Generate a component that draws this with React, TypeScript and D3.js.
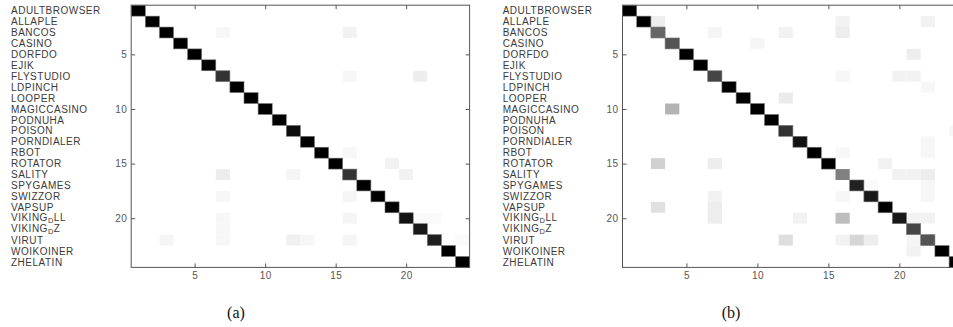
import { useEffect, useRef } from 'react';
import * as d3 from 'd3';

const CLASSES = [
  'ADULTBROWSER', 'ALLAPLE', 'BANCOS', 'CASINO', 'DORFDO', 'EJIK', 'FLYSTUDIO', 'LDPINCH',
  'LOOPER', 'MAGICCASINO', 'PODNUHA', 'POISON', 'PORNDIALER', 'RBOT', 'ROTATOR', 'SALITY',
  'SPYGAMES', 'SWIZZOR', 'VAPSUP', 'VIKING_DLL', 'VIKING_DZ', 'VIRUT', 'WOIKOINER', 'ZHELATIN',
];

const TICKS = [5, 10, 15, 20];

// diagonal (correct rate) per class
const DIAG_A = [1, 1, 1, 1, 1, 1, 0.8, 1, 1, 1, 1, 0.95, 1, 1, 1, 0.8, 1, 1, 1, 0.93, 0.9, 0.88, 1, 1];
const DIAG_B = [1, 1, 0.6, 0.67, 1, 1, 0.73, 1, 1, 1, 1, 0.8, 0.93, 1, 1, 0.5, 0.87, 0.9, 1, 0.9, 0.73, 0.67, 1, 1];

// off-diagonal confusions: [row, col, rate]
const OFF_A: [number, number, number][] = [
  [3, 7, 0.03], [3, 16, 0.05], [7, 16, 0.03], [7, 21, 0.07], [14, 16, 0.03], [15, 19, 0.05],
  [16, 7, 0.07], [16, 12, 0.04], [16, 20, 0.05], [18, 7, 0.03], [18, 16, 0.04], [20, 7, 0.03],
  [21, 7, 0.03], [22, 7, 0.03], [20, 16, 0.04], [20, 21, 0.02], [20, 22, 0.02], [22, 3, 0.04],
  [22, 12, 0.06], [22, 13, 0.03], [22, 16, 0.04], [22, 24, 0.02],
];
const OFF_B: [number, number, number][] = [
  [2, 3, 0.07], [2, 16, 0.05], [2, 22, 0.05], [3, 7, 0.04], [3, 12, 0.05], [3, 16, 0.07],
  [4, 10, 0.04], [5, 21, 0.07], [7, 16, 0.03], [7, 20, 0.05], [7, 21, 0.05], [8, 22, 0.03],
  [9, 12, 0.08], [10, 4, 0.3], [12, 24, 0.03], [13, 22, 0.03], [14, 22, 0.03], [14, 16, 0.03],
  [15, 3, 0.18], [15, 7, 0.07], [15, 19, 0.05], [16, 20, 0.05], [16, 21, 0.05], [16, 22, 0.07],
  [17, 18, 0.02], [17, 22, 0.03], [18, 22, 0.03], [18, 7, 0.05], [18, 16, 0.03], [19, 3, 0.12],
  [19, 7, 0.07], [20, 7, 0.07], [20, 13, 0.05], [20, 16, 0.26], [20, 21, 0.05], [20, 22, 0.05],
  [22, 12, 0.13], [22, 16, 0.05], [22, 17, 0.16], [22, 18, 0.07], [22, 21, 0.04], [23, 21, 0.05],
];

const W = 953;
const H = 327;
const FONT = '"Liberation Sans", Arial, sans-serif';

function drawMatrix(
  svg: d3.Selection<SVGSVGElement, unknown, null, undefined>,
  diag: number[],
  off: [number, number, number][],
  labelX: number,
  x0: number,
  x1: number,
  caption: string,
  captionX: number,
) {
  const n = CLASSES.length;
  const x = d3.scaleLinear().domain([0.5, n + 0.5]).range([x0, x1]);
  const y = d3.scaleLinear().domain([0.5, n + 0.5]).range([5.2, 267.4]);
  const gray = (v: number) => d3.rgb(255 * (1 - v), 255 * (1 - v), 255 * (1 - v)).toString();

  const cells: [number, number, number][] = [
    ...off,
    ...diag.map((v, i) => [i + 1, i + 1, v] as [number, number, number]),
  ];

  const g = svg.append('g');

  g.selectAll('rect.cell')
    .data(cells)
    .join('rect')
    .attr('class', 'cell')
    .attr('x', d => x(d[1] - 0.5))
    .attr('y', d => y(d[0] - 0.5))
    .attr('width', x(1.5) - x(0.5))
    .attr('height', y(1.5) - y(0.5))
    .attr('fill', d => gray(d[2]))
    .attr('stroke', d => (d[2] > 0.5 ? '#777' : 'none'))
    .attr('stroke-width', 0.6);

  // box
  g.append('rect')
    .attr('x', x0).attr('y', y(0.5))
    .attr('width', x1 - x0).attr('height', y(n + 0.5) - y(0.5))
    .attr('fill', 'none').attr('stroke', '#555').attr('stroke-width', 1);

  const style = (sel: d3.Selection<SVGGElement, unknown, null, undefined>) => {
    sel.select('.domain').remove();
    sel.selectAll('.tick line').attr('stroke', '#555');
    sel.selectAll('text').attr('fill', '#555').attr('font-size', 10)
      .attr('font-family', FONT).attr('letter-spacing', 0.4);
  };

  g.append('g').attr('transform', `translate(0,${y(n + 0.5)})`)
    .call(d3.axisBottom(x).tickValues(TICKS).tickSize(-4).tickPadding(5))
    .call(style);
  g.append('g').attr('transform', `translate(0,${y(0.5)})`)
    .call(d3.axisTop(x).tickValues(TICKS).tickSize(-4).tickFormat(() => ''))
    .call(style);
  g.append('g').attr('transform', `translate(${x0},0)`)
    .call(d3.axisLeft(y).tickValues(TICKS).tickSize(-4).tickPadding(4))
    .call(style);
  g.append('g').attr('transform', `translate(${x1},0)`)
    .call(d3.axisRight(y).tickValues(TICKS).tickSize(-4).tickFormat(() => ''))
    .call(style);

  // class names
  CLASSES.forEach((name, i) => {
    const sub = name.includes('_');
    const t = g.append('text')
      .attr('x', labelX)
      .attr('y', y(i + 1) + (sub ? -1 : 0))
      .attr('dy', '0.36em')
      .attr('fill', '#3a3a3a')
      .attr('font-size', 10)
      .attr('letter-spacing', 0.5)
      .attr('font-family', FONT);
    if (sub) {
      const [main, rest] = name.split('_');
      t.append('tspan').text(main);
      t.append('tspan').attr('dy', 2.5).attr('font-size', 7.5).text(rest[0]);
      t.append('tspan').attr('dy', -2.5).text(rest.slice(1));
    } else {
      t.text(name);
    }
  });

  svg.append('text')
    .attr('x', captionX)
    .attr('y', 318)
    .attr('text-anchor', 'middle')
    .attr('fill', '#111')
    .attr('font-size', 16)
    .attr('font-family', '"Liberation Serif", "Times New Roman", serif')
    .text(caption);
}

export default function App() {
  const svgRef = useRef<SVGSVGElement>(null);

  useEffect(() => {
    if (!svgRef.current) return;
    const svg = d3.select(svgRef.current);
    svg.selectAll('*').remove();
    svg.attr('width', W).attr('height', H);

    svg.append('rect').attr('width', W).attr('height', H).attr('fill', '#fff');

    drawMatrix(svg, DIAG_A, OFF_A, 11, 131.2, 469.6, '(a)', 236);
    drawMatrix(svg, DIAG_B, OFF_B, 502.7, 622.5, 622.5 + 24 * 14.2, '(b)', 731);
  }, []);

  return (
    <svg
      ref={svgRef}
      style={{ position: 'absolute', left: 0, top: 0, display: 'block' }}
    />
  );
}
